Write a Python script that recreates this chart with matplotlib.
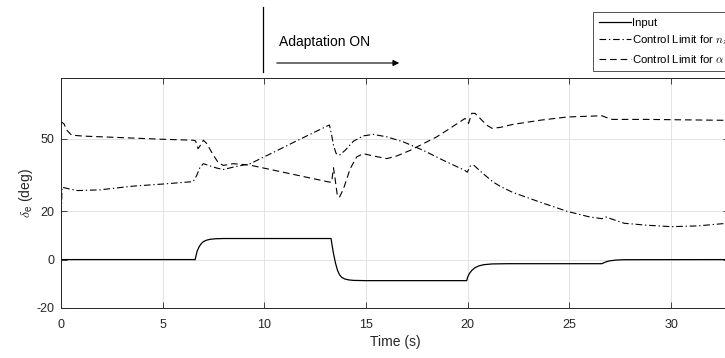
import matplotlib
matplotlib.use("Agg")
import matplotlib.pyplot as plt
from matplotlib.lines import Line2D
from matplotlib.patches import FancyArrowPatch

plt.rcParams['font.family'] = ['Liberation Sans', 'DejaVu Sans']
plt.rcParams['mathtext.fontset'] = 'cm'
plt.rcParams['axes.unicode_minus'] = False

# elevator command (deg)
t_input = [0, 6.6, 6.65, 6.7, 6.8, 6.9, 7.0, 7.15, 7.35, 7.6, 8.0, 13.28, 13.33, 13.4,
           13.5, 13.6, 13.7, 13.8, 13.95, 14.15, 14.4, 15.0, 19.95, 20.0, 20.08,
           20.2, 20.35, 20.55, 20.8, 21.2, 22.0, 26.6, 26.7, 26.85, 27.0, 27.3, 27.7, 33]
v_input = [0, 0, 2.0, 3.6, 5.4, 6.6, 7.4, 8.0, 8.4, 8.6, 8.7, 8.7, 6.0, 2.5,
           -1.5, -4.5, -6.3, -7.3, -8.0, -8.4, -8.6, -8.7, -8.7, -7.2, -5.8,
           -4.5, -3.4, -2.6, -2.1, -1.8, -1.7, -1.7, -1.3, -0.8, -0.5, -0.2, -0.05, 0]

# control limit for n_z (deg)
t_nz = [0, 0.02, 0.05, 0.3, 0.8, 1.9, 3.5, 5.0, 6.5, 6.67, 6.84, 7.0, 7.25, 7.66, 7.98,
        8.48, 9.3, 10.5, 11.7, 13.2, 13.31, 13.4, 13.53, 13.69, 13.97, 14.38, 14.87,
        15.36, 16.02, 16.84, 17.82, 18.8, 19.87, 19.98, 20.12, 20.31, 20.77, 21.26,
        21.59, 22.2, 23.6, 24.9, 26.0, 26.6, 26.8, 27.2, 27.7, 28.8, 30.0, 31.3, 32.9]
v_nz = [-20, 20, 29.9, 29.4, 28.5, 28.8, 30.3, 31.2, 32.2, 34.7, 38.2, 39.6, 38.9, 37.8, 37.2,
        38.2, 39.6, 44.5, 49.5, 55.6, 51.4, 47.2, 43.8, 43.1, 45.1, 48.9, 51.1,
        51.7, 50.7, 48.6, 45.1, 41.0, 36.8, 36.1, 38.6, 38.9, 35.4, 32.0,
        30.3, 27.8, 23.6, 19.9, 17.6, 16.9, 17.6, 16.4, 15.0, 14.2, 13.6, 13.9, 15.1]

# control limit for alpha (deg)
t_alpha = [0, 0.15, 0.28, 0.52, 1.1, 5.0, 6.5, 6.62, 6.74, 6.84, 7.0, 7.16, 7.5, 7.74,
           7.98, 8.48, 9.3, 13.2, 13.31, 13.4, 13.48, 13.59, 13.69, 13.89, 14.22, 14.54,
           14.87, 15.36, 16.02, 16.51, 17.17, 17.82, 18.48, 19.13, 19.87, 20.04, 20.2,
           20.36, 20.61, 20.94, 21.2, 21.6, 22.2, 23.6, 24.9, 26.6, 26.8, 27.1, 28.8, 32.9]
v_alpha = [57, 56, 53.5, 51.4, 51, 49.7, 49.3, 49, 45.8, 47, 49.3, 48, 43, 40,
           38.9, 39.6, 39, 32, 32, 37.9, 33.3, 26.4, 25.7, 29.2, 37.5, 42.4,
           43.75, 42.8, 41.7, 42.8, 45.1, 47.9, 50.7, 54.2, 58.3, 56.25, 60.4,
           60.4, 58.3, 55.5, 54.2, 54.6, 55.8, 57.6, 58.9, 59.4, 58.75, 57.9, 57.9, 57.5]

x_ticks = [0, 5, 10, 15, 20, 25, 30]
y_ticks = [-20, 0, 20, 50]

W, H = 725, 358
fig = plt.figure(figsize=(W / 100, H / 100), dpi=100)
ax = fig.add_axes([61 / W, 1 - 308 / H, 668 / W, 230 / H])

edge = '#262626'
ax.plot(t_input, v_input, color='k', lw=0.9, ls='-', label='Input')
ax.plot(t_nz, v_nz, color='k', lw=0.8, ls=(0, (6, 2.5, 1.2, 2.5)),
        label=r'Control Limit for $n_z$')
ax.plot(t_alpha, v_alpha, color='k', lw=0.8, ls=(0, (6, 3.5)),
        label=r'Control Limit for $\alpha$')

ax.set_xlim(0, 32.85)
ax.set_ylim(-20, 75)
ax.set_xticks(x_ticks)
ax.set_yticks(y_ticks)
ax.grid(True, color='#e3e3e3', lw=0.7)
ax.set_axisbelow(True)
ax.tick_params(direction='in', length=4, width=0.6, colors=edge, labelsize=9,
               top=True, right=True)
ax.tick_params(axis='x', pad=8)
ax.tick_params(axis='y', pad=5)
for s in ax.spines.values():
    s.set_color(edge)
    s.set_linewidth(0.7)

ax.set_xlabel('Time (s)', fontsize=10, color=edge, labelpad=3)
ax.set_ylabel(r'$\delta_\mathregular{e}$ (deg)', fontsize=10, color=edge, labelpad=1)

leg = fig.legend(loc='upper left', bbox_to_anchor=(593 / W, 1 - 12 / H),
                 fontsize=8.2, frameon=True, fancybox=False, handlelength=2.8,
                 handletextpad=0.1, borderpad=0.5, labelspacing=0.5,
                 borderaxespad=0)
leg.get_frame().set_edgecolor(edge)
leg.get_frame().set_linewidth(0.7)

# adaptation switch marker above the axes
fig.add_artist(Line2D([263 / W, 263 / W], [1 - 7 / H, 1 - 72 / H], color='k', lw=0.9))
fig.text(279 / W, 1 - 42 / H, 'Adaptation ON', fontsize=10, color='k', va='center')
fig.add_artist(FancyArrowPatch((274 / W, 1 - 63 / H), (402 / W, 1 - 63 / H),
                               transform=fig.transFigure, arrowstyle='-|>',
                               mutation_scale=9, color='k', lw=0.8))

fig.savefig('out.png', dpi=100)
